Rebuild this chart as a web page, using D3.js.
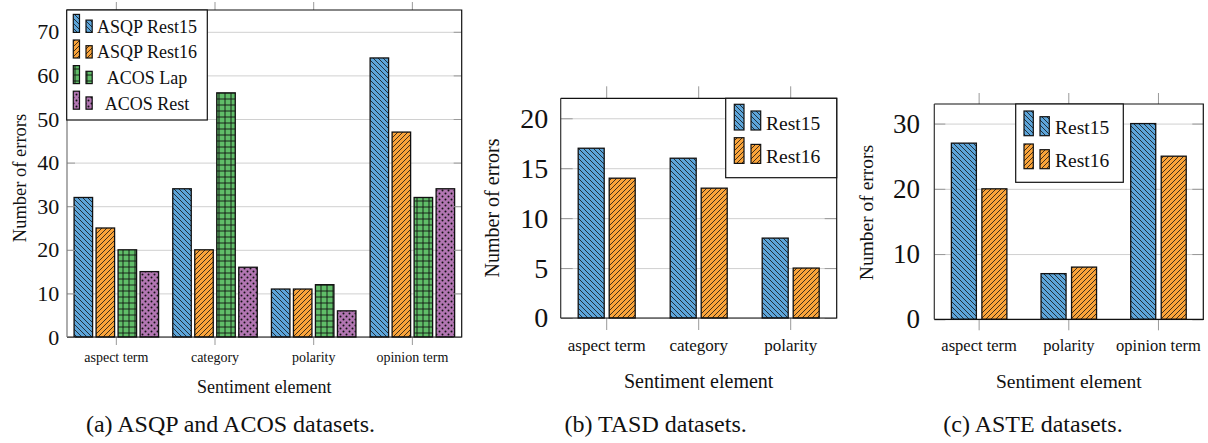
<!DOCTYPE html>
<html>
<head>
<meta charset="utf-8">
<script src="https://cdn.jsdelivr.net/npm/d3@7"></script>
<style>
    html, body { margin: 0; padding: 0; background: #fff; }
    svg { display: block; }
    svg text { font-family: 'Liberation Serif', 'Times New Roman', Times, 'DejaVu Serif', serif !important; }
</style>
</head>
<body>
<svg id="chart" width="1208" height="443"></svg>
<script>
// (a) ASQP / ACOS
var asqpCategories = ['aspect term', 'category', 'polarity', 'opinion term'];
var asqpRest15 = [32, 34, 11, 64];
var asqpRest16 = [25, 20, 11, 47];
var acosLap = [20, 56, 12, 32];
var acosRest = [15, 16, 6, 34];
var asqpTicks = [0, 10, 20, 30, 40, 50, 60, 70];

// (b) TASD
var tasdCategories = ['aspect term', 'category', 'polarity'];
var tasdRest15 = [17, 16, 8];
var tasdRest16 = [14, 13, 5];
var tasdTicks = [0, 5, 10, 15, 20];

// (c) ASTE
var asteCategories = ['aspect term', 'polarity', 'opinion term'];
var asteRest15 = [27, 7, 30];
var asteRest16 = [20, 8, 25];
var asteTicks = [0, 10, 20, 30];

var yLabel = 'Number of errors',
    xLabel = 'Sentiment element';

var blue = '#5DA5DA',
    orange = '#FAA43A',
    green = '#60BD68',
    purple = '#B276B2';

var svg = d3.select('#chart');
var defs = svg.append('defs');

function addPattern(id, color, kind) {
    var s = (kind === 'nw' || kind === 'ne') ? 5 : 6;
    var p = defs.append('pattern')
        .attr('id', id)
        .attr('patternUnits', 'userSpaceOnUse')
        .attr('width', s)
        .attr('height', s);
    p.append('rect').attr('width', s).attr('height', s).attr('fill', color);
    if (kind === 'nw') {
        p.append('path')
            .attr('d', 'M0,0L' + s + ',' + s + 'M-1,' + (s - 1) + 'L1,' + (s + 1) + 'M' + (s - 1) + ',-1L' + (s + 1) + ',1')
            .attr('stroke', '#111').attr('stroke-width', 0.8);
    } else if (kind === 'ne') {
        p.append('path')
            .attr('d', 'M0,' + s + 'L' + s + ',0M-1,1L1,-1M' + (s - 1) + ',' + (s + 1) + 'L' + (s + 1) + ',' + (s - 1))
            .attr('stroke', '#111').attr('stroke-width', 0.8);
    } else if (kind === 'grid') {
        p.append('path')
            .attr('d', 'M3,0V' + s + 'M0,3H' + s)
            .attr('stroke', '#111').attr('stroke-width', 0.9);
    } else if (kind === 'dots') {
        p.append('circle').attr('cx', 1.5).attr('cy', 1.5).attr('r', 1).attr('fill', '#111');
        p.append('circle').attr('cx', 4.5).attr('cy', 4.5).attr('r', 1).attr('fill', '#111');
    }
}

addPattern('pat-blue', blue, 'nw');
addPattern('pat-orange', orange, 'ne');
addPattern('pat-green', green, 'grid');
addPattern('pat-purple', purple, 'dots');

var panels = [
    {
        categories: asqpCategories,
        series: [
            {name: 'ASQP Rest15', values: asqpRest15, fill: 'pat-blue'},
            {name: 'ASQP Rest16', values: asqpRest16, fill: 'pat-orange'},
            {name: 'ACOS Lap', values: acosLap, fill: 'pat-green'},
            {name: 'ACOS Rest', values: acosRest, fill: 'pat-purple'}
        ],
        ticks: asqpTicks, yMax: 75,
        left: 67, right: 461.7, top: 10, bottom: 337,
        barWidth: 18.5, barGap: 3.5,
        tickLen: 8, tickFont: 22, tickPad: 7.7,
        catFont: 14, catBaseline: 362,
        leftColor: '#777',
        xLabelFont: 18, xLabelBaseline: 393,
        yLabelFont: 18.5, yLabelX: 20, yLabelY: 178,
        caption: '(a) ASQP and ACOS datasets.', captionX: 230.5,
        legend: {
            x: 66.7, y: 10, w: 140.6, h: 110,
            rowStart: 26.7, rowStep: 25.6, drop: 5.7,
            icon1: 6.6, icon2: 19.3, iconW: 6.2, h1: 18, h2: 12.3,
            textX: 147, anchor: 'middle', font: 18
        }
    },
    {
        categories: tasdCategories,
        series: [
            {name: 'Rest15', values: tasdRest15, fill: 'pat-blue'},
            {name: 'Rest16', values: tasdRest16, fill: 'pat-orange'}
        ],
        ticks: tasdTicks, yMax: 22,
        left: 560.7, right: 836.7, top: 98.3, bottom: 318,
        barWidth: 26, barGap: 5,
        tickLen: 12, tickFont: 28, tickPad: 12.4,
        catFont: 17, catBaseline: 351,
        leftColor: '#333',
        xLabelFont: 20, xLabelBaseline: 388,
        yLabelFont: 20, yLabelX: 492, yLabelY: 208,
        caption: '(b) TASD datasets.', captionX: 655.6,
        legend: {
            x: 725.7, y: 98.3, w: 111, h: 79.4,
            rowStart: 123.3, rowStep: 33.4, drop: 6.7,
            icon1: 8.6, icon2: 25.3, iconW: 9.7, h1: 25.7, h2: 19,
            textX: 766, anchor: 'start', font: 19.5
        }
    },
    {
        categories: asteCategories,
        series: [
            {name: 'Rest15', values: asteRest15, fill: 'pat-blue'},
            {name: 'Rest16', values: asteRest16, fill: 'pat-orange'}
        ],
        ticks: asteTicks, yMax: 33,
        left: 934.3, right: 1203.3, top: 104, bottom: 319.3,
        barWidth: 25, barGap: 5.5,
        tickLen: 11, tickFont: 27, tickPad: 14.3,
        catFont: 16.5, catBaseline: 351.5,
        leftColor: '#333',
        xLabelFont: 19.5, xLabelBaseline: 388,
        yLabelFont: 19.5, yLabelX: 866, yLabelY: 212.5,
        caption: '(c) ASTE datasets.', captionX: 1033,
        legend: {
            x: 1015.7, y: 104, w: 107.6, h: 78.3,
            rowStart: 127.7, rowStep: 33, drop: 8,
            icon1: 8.3, icon2: 24.3, iconW: 9.3, h1: 24.7, h2: 19,
            textX: 1055, anchor: 'start', font: 19.5
        }
    }
];

function styleTicks(sel, color, font) {
    sel.attr('font-family', null).attr('font-size', font);
    sel.select('.domain').remove();
    sel.selectAll('line').attr('stroke', color);
    sel.selectAll('text').attr('fill', '#111');
}

function drawPanel(cfg) {
    var g = svg.append('g');
    var x = d3.scaleBand().domain(cfg.categories).range([cfg.left, cfg.right]).padding(0);
    var y = d3.scaleLinear().domain([0, cfg.yMax]).range([cfg.bottom, cfg.top]);

    var names = cfg.series.map(function(s) { return s.name; });
    var step = cfg.barWidth + cfg.barGap,
        half = names.length * step / 2;
    var inner = d3.scaleBand().domain(names).range([-half, half])
        .paddingInner(cfg.barGap / step)
        .paddingOuter(cfg.barGap / step / 2);

    // grid lines
    g.append('g')
        .attr('transform', 'translate(' + cfg.left + ',0)')
        .call(d3.axisLeft(y).tickValues(cfg.ticks).tickSize(-(cfg.right - cfg.left)).tickFormat(''))
        .call(styleTicks, '#d0d0d0', 10);

    cfg.series.forEach(function(s) {
        g.append('g').selectAll('rect')
            .data(s.values)
            .join('rect')
                .attr('x', function(d, i) { return x(cfg.categories[i]) + x.bandwidth() / 2 + inner(s.name); })
                .attr('y', function(d) { return y(d); })
                .attr('width', inner.bandwidth())
                .attr('height', function(d) { return y(0) - y(d); })
                .attr('fill', 'url(#' + s.fill + ')')
                .attr('stroke', '#111')
                .attr('stroke-width', 1.3);
    });

    // ticks: inward on y, outward on x
    g.append('g')
        .attr('transform', 'translate(' + cfg.left + ',0)')
        .call(d3.axisLeft(y).tickValues(cfg.ticks).tickSize(-cfg.tickLen).tickPadding(cfg.tickPad))
        .call(styleTicks, '#999', cfg.tickFont);
    g.append('g')
        .attr('transform', 'translate(' + cfg.right + ',0)')
        .call(d3.axisRight(y).tickValues(cfg.ticks).tickSize(-cfg.tickLen).tickFormat(''))
        .call(styleTicks, '#999', 10);
    g.append('g')
        .attr('transform', 'translate(0,' + cfg.bottom + ')')
        .call(d3.axisBottom(x).tickSize(cfg.tickLen)
            .tickPadding(cfg.catBaseline - cfg.bottom - cfg.tickLen - 0.71 * cfg.catFont))
        .call(styleTicks, '#999', cfg.catFont);
    g.append('g')
        .attr('transform', 'translate(0,' + cfg.top + ')')
        .call(d3.axisTop(x).tickSize(cfg.tickLen).tickFormat(''))
        .call(styleTicks, '#999', 10);

    // frame
    g.append('path')
        .attr('d', 'M' + cfg.left + ',' + cfg.top + 'H' + cfg.right + 'V' + cfg.bottom + 'H' + cfg.left)
        .attr('fill', 'none').attr('stroke', '#111').attr('stroke-width', 1.2);
    g.append('line')
        .attr('x1', cfg.left).attr('x2', cfg.left).attr('y1', cfg.top).attr('y2', cfg.bottom)
        .attr('stroke', cfg.leftColor).attr('stroke-width', 1.2);

    var L = cfg.legend;
    var lg = g.append('g');
    lg.append('rect')
        .attr('x', L.x).attr('y', L.y).attr('width', L.w).attr('height', L.h)
        .attr('fill', '#fff').attr('stroke', '#111').attr('stroke-width', 1.2);
    cfg.series.forEach(function(s, i) {
        var cy = L.rowStart + i * L.rowStep,
            base = cy + L.drop;
        lg.append('rect')
            .attr('x', L.x + L.icon1).attr('y', base - L.h1)
            .attr('width', L.iconW).attr('height', L.h1)
            .attr('fill', 'url(#' + s.fill + ')').attr('stroke', '#111').attr('stroke-width', 1.2);
        lg.append('rect')
            .attr('x', L.x + L.icon2).attr('y', base - L.h2)
            .attr('width', L.iconW).attr('height', L.h2)
            .attr('fill', 'url(#' + s.fill + ')').attr('stroke', '#111').attr('stroke-width', 1.2);
        lg.append('text')
            .attr('x', L.textX).attr('y', cy)
            .attr('text-anchor', L.anchor)
            .attr('dominant-baseline', 'central')
            .attr('font-size', L.font)
            .attr('fill', '#111')
            .text(s.name);
    });

    g.append('text')
        .attr('x', (cfg.left + cfg.right) / 2).attr('y', cfg.xLabelBaseline)
        .attr('text-anchor', 'middle').attr('font-size', cfg.xLabelFont).attr('fill', '#111')
        .text(xLabel);
    g.append('text')
        .attr('transform', 'translate(' + cfg.yLabelX + ',' + cfg.yLabelY + ') rotate(-90)')
        .attr('text-anchor', 'middle').attr('dominant-baseline', 'central')
        .attr('font-size', cfg.yLabelFont).attr('fill', '#111')
        .text(yLabel);
    g.append('text')
        .attr('x', cfg.captionX).attr('y', 432)
        .attr('text-anchor', 'middle').attr('font-size', 24).attr('fill', '#111')
        .text(cfg.caption);
}

panels.forEach(drawPanel);
</script>
</body>
</html>
